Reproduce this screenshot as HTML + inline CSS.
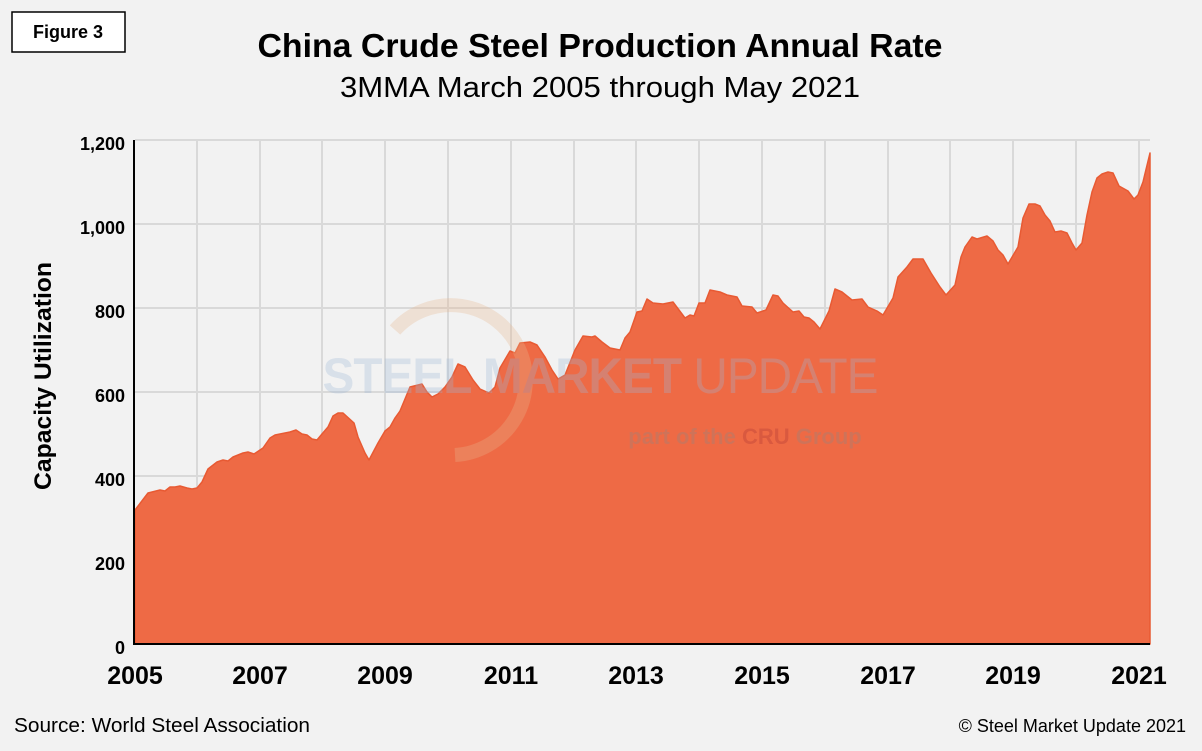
<!DOCTYPE html>
<html><head><meta charset="utf-8"><style>
body{margin:0;background:#f2f2f2;}
svg{display:block;font-family:"Liberation Sans",Arial,sans-serif;}
</style></head><body>
<svg width="1202" height="751" viewBox="0 0 1202 751">
<rect width="1202" height="751" fill="#f2f2f2"/>
<rect x="12" y="12" width="113" height="40" fill="#fff" stroke="#000" stroke-width="1.5"/>
<text x="68" y="38" font-size="18" font-weight="bold" text-anchor="middle">Figure 3</text>
<text x="600" y="57" font-size="33.5" font-weight="bold" text-anchor="middle" textLength="685" lengthAdjust="spacingAndGlyphs">China Crude Steel Production Annual Rate</text>
<text x="600" y="97" font-size="29" text-anchor="middle" textLength="520" lengthAdjust="spacingAndGlyphs">3MMA March 2005 through May 2021</text>
<g stroke="#d9d9d9" stroke-width="2">
<line x1="135" y1="140" x2="1150" y2="140"/><line x1="135" y1="224" x2="1150" y2="224"/><line x1="135" y1="308" x2="1150" y2="308"/><line x1="135" y1="392" x2="1150" y2="392"/><line x1="135" y1="476" x2="1150" y2="476"/><line x1="135" y1="560" x2="1150" y2="560"/>
<line x1="197" y1="140" x2="197" y2="644"/><line x1="260" y1="140" x2="260" y2="644"/><line x1="322" y1="140" x2="322" y2="644"/><line x1="385" y1="140" x2="385" y2="644"/><line x1="448" y1="140" x2="448" y2="644"/><line x1="511" y1="140" x2="511" y2="644"/><line x1="574" y1="140" x2="574" y2="644"/><line x1="636" y1="140" x2="636" y2="644"/><line x1="699" y1="140" x2="699" y2="644"/><line x1="762" y1="140" x2="762" y2="644"/><line x1="825" y1="140" x2="825" y2="644"/><line x1="888" y1="140" x2="888" y2="644"/><line x1="950" y1="140" x2="950" y2="644"/><line x1="1013" y1="140" x2="1013" y2="644"/><line x1="1076" y1="140" x2="1076" y2="644"/><line x1="1139" y1="140" x2="1139" y2="644"/>
</g>
<path fill="#ee6a45" stroke="#e85a33" stroke-width="1.5" stroke-linejoin="round" d="M135,644 L135,510 L148,493 L160,490 L165,491 L170,487 L175,487 L180,486 L187,488 L192,489 L197,488 L202,482 L208,469 L217,462 L223,460 L228,461 L233,457 L243,453 L248,452 L254,454 L263,448 L270,438 L275,435 L290,432 L296,430 L302,434 L307,435 L312,439 L317,440 L322,434 L328,427 L333,416 L338,413 L343,413 L354,423 L358,437 L365,453 L369,460 L378,443 L385,431 L390,427 L395,418 L400,411 L410,387 L422,384 L427,392 L432,397 L438,394 L445,387 L452,377 L458,364 L465,367 L473,380 L480,389 L489,393 L495,387 L500,368 L510,351 L515,353 L520,343 L530,342 L537,345 L545,357 L552,370 L558,379 L565,375 L575,350 L583,336 L592,337 L595,336 L602,342 L610,348 L620,350 L625,338 L630,332 L637,312 L642,311 L647,299 L653,303 L663,304 L673,302 L685,318 L690,315 L694,316 L699,303 L705,303 L710,290 L720,292 L727,295 L737,297 L742,306 L752,307 L757,313 L766,310 L773,295 L778,296 L783,303 L793,312 L799,311 L804,317 L809,318 L814,322 L820,329 L829,311 L835,289 L842,292 L852,300 L862,299 L868,307 L877,311 L883,315 L893,298 L898,277 L907,267 L913,259 L923,259 L931,273 L940,287 L946,295 L955,285 L961,257 L965,247 L972,237 L977,239 L987,236 L993,241 L998,250 L1003,255 L1008,264 L1018,247 L1023,218 L1029,204 L1035,204 L1040,206 L1045,215 L1050,221 L1055,232 L1061,231 L1067,233 L1072,243 L1076,250 L1082,243 L1087,215 L1092,192 L1097,178 L1102,174 L1108,172 L1113,173 L1119,186 L1128,191 L1134,199 L1138,195 L1143,182 L1150,153 L1150,644 Z"/>
<g opacity="0.3">
<path d="M395,330 A75,75 0 1 1 455,455" fill="none" stroke="#e8b890" stroke-width="14"/>
<text x="600" y="393" font-size="50" font-weight="bold" fill="#9db8d6" text-anchor="middle" letter-spacing="-1" textLength="555" lengthAdjust="spacingAndGlyphs">STEEL MARKET <tspan font-weight="normal">UPDATE</tspan></text>
<text x="745" y="444" font-size="22" font-weight="bold" fill="#888" text-anchor="middle">part of the <tspan fill="#a33">CRU</tspan> Group</text>
</g>
<line x1="134" y1="140" x2="134" y2="645" stroke="#000" stroke-width="2"/>
<line x1="134" y1="644" x2="1150" y2="644" stroke="#000" stroke-width="2"/>
<g font-size="18" font-weight="bold" text-anchor="end">
<text x="125" y="150">1,200</text><text x="125" y="234">1,000</text><text x="125" y="318">800</text><text x="125" y="402">600</text><text x="125" y="486">400</text><text x="125" y="570">200</text><text x="125" y="654">0</text>
</g>
<g font-size="25" font-weight="bold" text-anchor="middle">
<text x="135" y="684">2005</text><text x="260" y="684">2007</text><text x="385" y="684">2009</text><text x="511" y="684">2011</text><text x="636" y="684">2013</text><text x="762" y="684">2015</text><text x="888" y="684">2017</text><text x="1013" y="684">2019</text><text x="1139" y="684">2021</text>
</g>
<text transform="translate(51,376) rotate(-90)" font-size="24" font-weight="bold" text-anchor="middle" textLength="228" lengthAdjust="spacingAndGlyphs">Capacity Utilization</text>
<text x="14" y="732" font-size="20" textLength="296" lengthAdjust="spacingAndGlyphs">Source: World Steel Association</text>
<text x="1186" y="732" font-size="18" text-anchor="end">© Steel Market Update 2021</text>
</svg>
</body></html>
